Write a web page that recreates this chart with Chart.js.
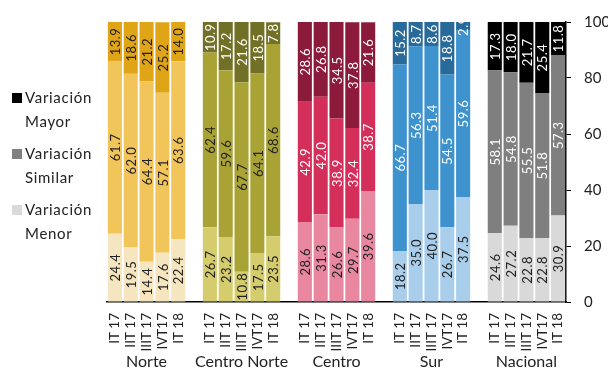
<!DOCTYPE html>
<html>
<head>
<meta charset="utf-8">
<script src="https://cdn.jsdelivr.net/npm/chart.js@4/dist/chart.umd.min.js"></script>
<style>
  body { margin: 0; background: #fff; }
  #wrap { position: relative; width: 608px; height: 368px; overflow: hidden; }
  .legend { position: absolute; left: 12px; font: 15px Lato, sans-serif; color: #222; letter-spacing: 0.7px; line-height: 24px; }
  .legend i { display: inline-block; width: 10px; height: 10px; margin-right: 3px; vertical-align: 0px; }
</style>
</head>
<body>
<div id="wrap">
  <canvas id="chart" width="608" height="368"></canvas>
  <div class="legend" style="top:85px"><i style="background:#000"></i>Variación<br><span style="margin-left:13px">Mayor</span></div>
  <div class="legend" style="top:141px"><i style="background:#808080"></i>Variación<br><span style="margin-left:13px">Similar</span></div>
  <div class="legend" style="top:197px"><i style="background:#d9d9d9"></i>Variación<br><span style="margin-left:13px">Menor</span></div>
</div>
<script>
const periods = ['IT 17', 'IIT 17', 'IIIT 17', 'IVT17', 'IT 18'];
const regions = ['Norte', 'Centro Norte', 'Centro', 'Sur', 'Nacional'];

// one row per region, one value per period
const menor = [
  [24.4, 19.5, 14.4, 17.6, 22.4],
  [26.7, 23.2, 10.8, 17.5, 23.5],
  [28.6, 31.3, 26.6, 29.7, 39.6],
  [18.2, 35.0, 40.0, 26.7, 37.5],
  [24.6, 27.2, 22.8, 22.8, 30.9]
];
const similar = [
  [61.7, 62.0, 64.4, 57.1, 63.6],
  [62.4, 59.6, 67.7, 64.1, 68.6],
  [42.9, 42.0, 38.9, 32.4, 38.7],
  [66.7, 56.3, 51.4, 54.5, 59.6],
  [58.1, 54.8, 55.5, 51.8, 57.3]
];
const mayor = [
  [13.9, 18.6, 21.2, 25.2, 14.0],
  [10.9, 17.2, 21.6, 18.5, 7.8],
  [28.6, 26.8, 34.5, 37.8, 21.6],
  [15.2, 8.7, 8.6, 18.8, 2.9],
  [17.3, 18.0, 21.7, 25.4, 11.8]
];

const colMenor   = ['#f6e6bf', '#d4cc6d', '#e8879f', '#a8ceeb', '#d9d9d9'];
const colSimilar = ['#f2c55b', '#a9a235', '#d42e5b', '#3e93cf', '#7f7f7f'];
const colMayor   = ['#e0a417', '#727026', '#8c1a3b', '#286a9a', '#000000'];
const txtMenor   = ['#222', '#222', '#222', '#222', '#222'];
const txtSimilar = ['#222', '#222', '#fff', '#fff', '#fff'];
const txtMayor   = ['#222', '#fff', '#fff', '#fff', '#fff'];

// flatten groups, with one empty slot between regions
function flat(rows) {
  const out = [];
  rows.forEach((r, g) => {
    r.forEach(v => out.push(v));
    if (g < rows.length - 1) out.push(null);
  });
  return out;
}
function perBar(cols) {
  return flat(cols.map(c => periods.map(() => c)));
}

const labels = flat(regions.map(() => periods)).map(l => l === null ? '' : l);
const groupLabels = flat(regions.map(r => periods.map((p, i) => i === 2 ? r : ''))).map(l => l === null ? '' : l);

const valueLabels = {
  id: 'valueLabels',
  afterDatasetsDraw(chart) {
    const ctx = chart.ctx;
    chart.data.datasets.forEach((ds, i) => {
      chart.getDatasetMeta(i).data.forEach((bar, j) => {
        const v = ds.data[j];
        if (v === null || v === undefined) return;
        ctx.save();
        ctx.translate(bar.x, (bar.y + bar.base) / 2);
        ctx.rotate(-Math.PI / 2);
        ctx.font = '13px Lato';
        ctx.letterSpacing = '0.5px';
        ctx.fillStyle = ds.labelColors[j];
        ctx.textAlign = 'center';
        ctx.textBaseline = 'middle';
        ctx.fillText(v.toFixed(1), 0, 1);
        ctx.restore();
      });
    });
  }
};

const ctx = document.getElementById('chart').getContext('2d');
const chart = new Chart(ctx, {
  type: 'bar',
  data: {
    labels: labels,
    datasets: [
      { label: 'Variación Menor', data: flat(menor), backgroundColor: perBar(colMenor), labelColors: perBar(txtMenor) },
      { label: 'Variación Similar', data: flat(similar), backgroundColor: perBar(colSimilar), labelColors: perBar(txtSimilar) },
      { label: 'Variación Mayor', data: flat(mayor), backgroundColor: perBar(colMayor), labelColors: perBar(txtMayor) }
    ]
  },
  options: {
    responsive: false,
    animation: false,
    devicePixelRatio: 1,
    layout: { padding: { left: 107, top: 17, right: 0, bottom: 0 } },
    datasets: { bar: { barPercentage: 0.89, categoryPercentage: 1 } },
    plugins: { legend: { display: false }, tooltip: { enabled: false } },
    scales: {
      x: {
        stacked: true,
        grid: { display: true, drawOnChartArea: false, drawTicks: false },
        border: { display: true, color: '#000', width: 1.5 },
        ticks: { autoSkip: false, minRotation: 90, maxRotation: 90, padding: 11, color: '#222', font: { family: 'Lato', size: 13.5 } },
        afterFit: s => { s.height = 49; }
      },
      x2: {
        type: 'category',
        labels: groupLabels,
        position: 'bottom',
        grid: { display: false, drawTicks: false },
        border: { display: false },
        ticks: { autoSkip: false, maxRotation: 0, minRotation: 0, padding: 1, color: '#222', font: { family: 'Lato', size: 16 } },
        afterFit: s => { s.height = 17; }
      },
      y: {
        stacked: true,
        position: 'right',
        min: 0,
        max: 100,
        grid: { drawOnChartArea: false, drawTicks: true, tickLength: 5, color: '#000' },
        border: { display: true, color: '#000', width: 1.5 },
        ticks: { stepSize: 20, padding: 13, color: '#222', font: { family: 'Lato', size: 15 } },
        afterFit: s => { s.width = 42; }
      }
    }
  },
  plugins: [valueLabels]
});
</script>
</body>
</html>
